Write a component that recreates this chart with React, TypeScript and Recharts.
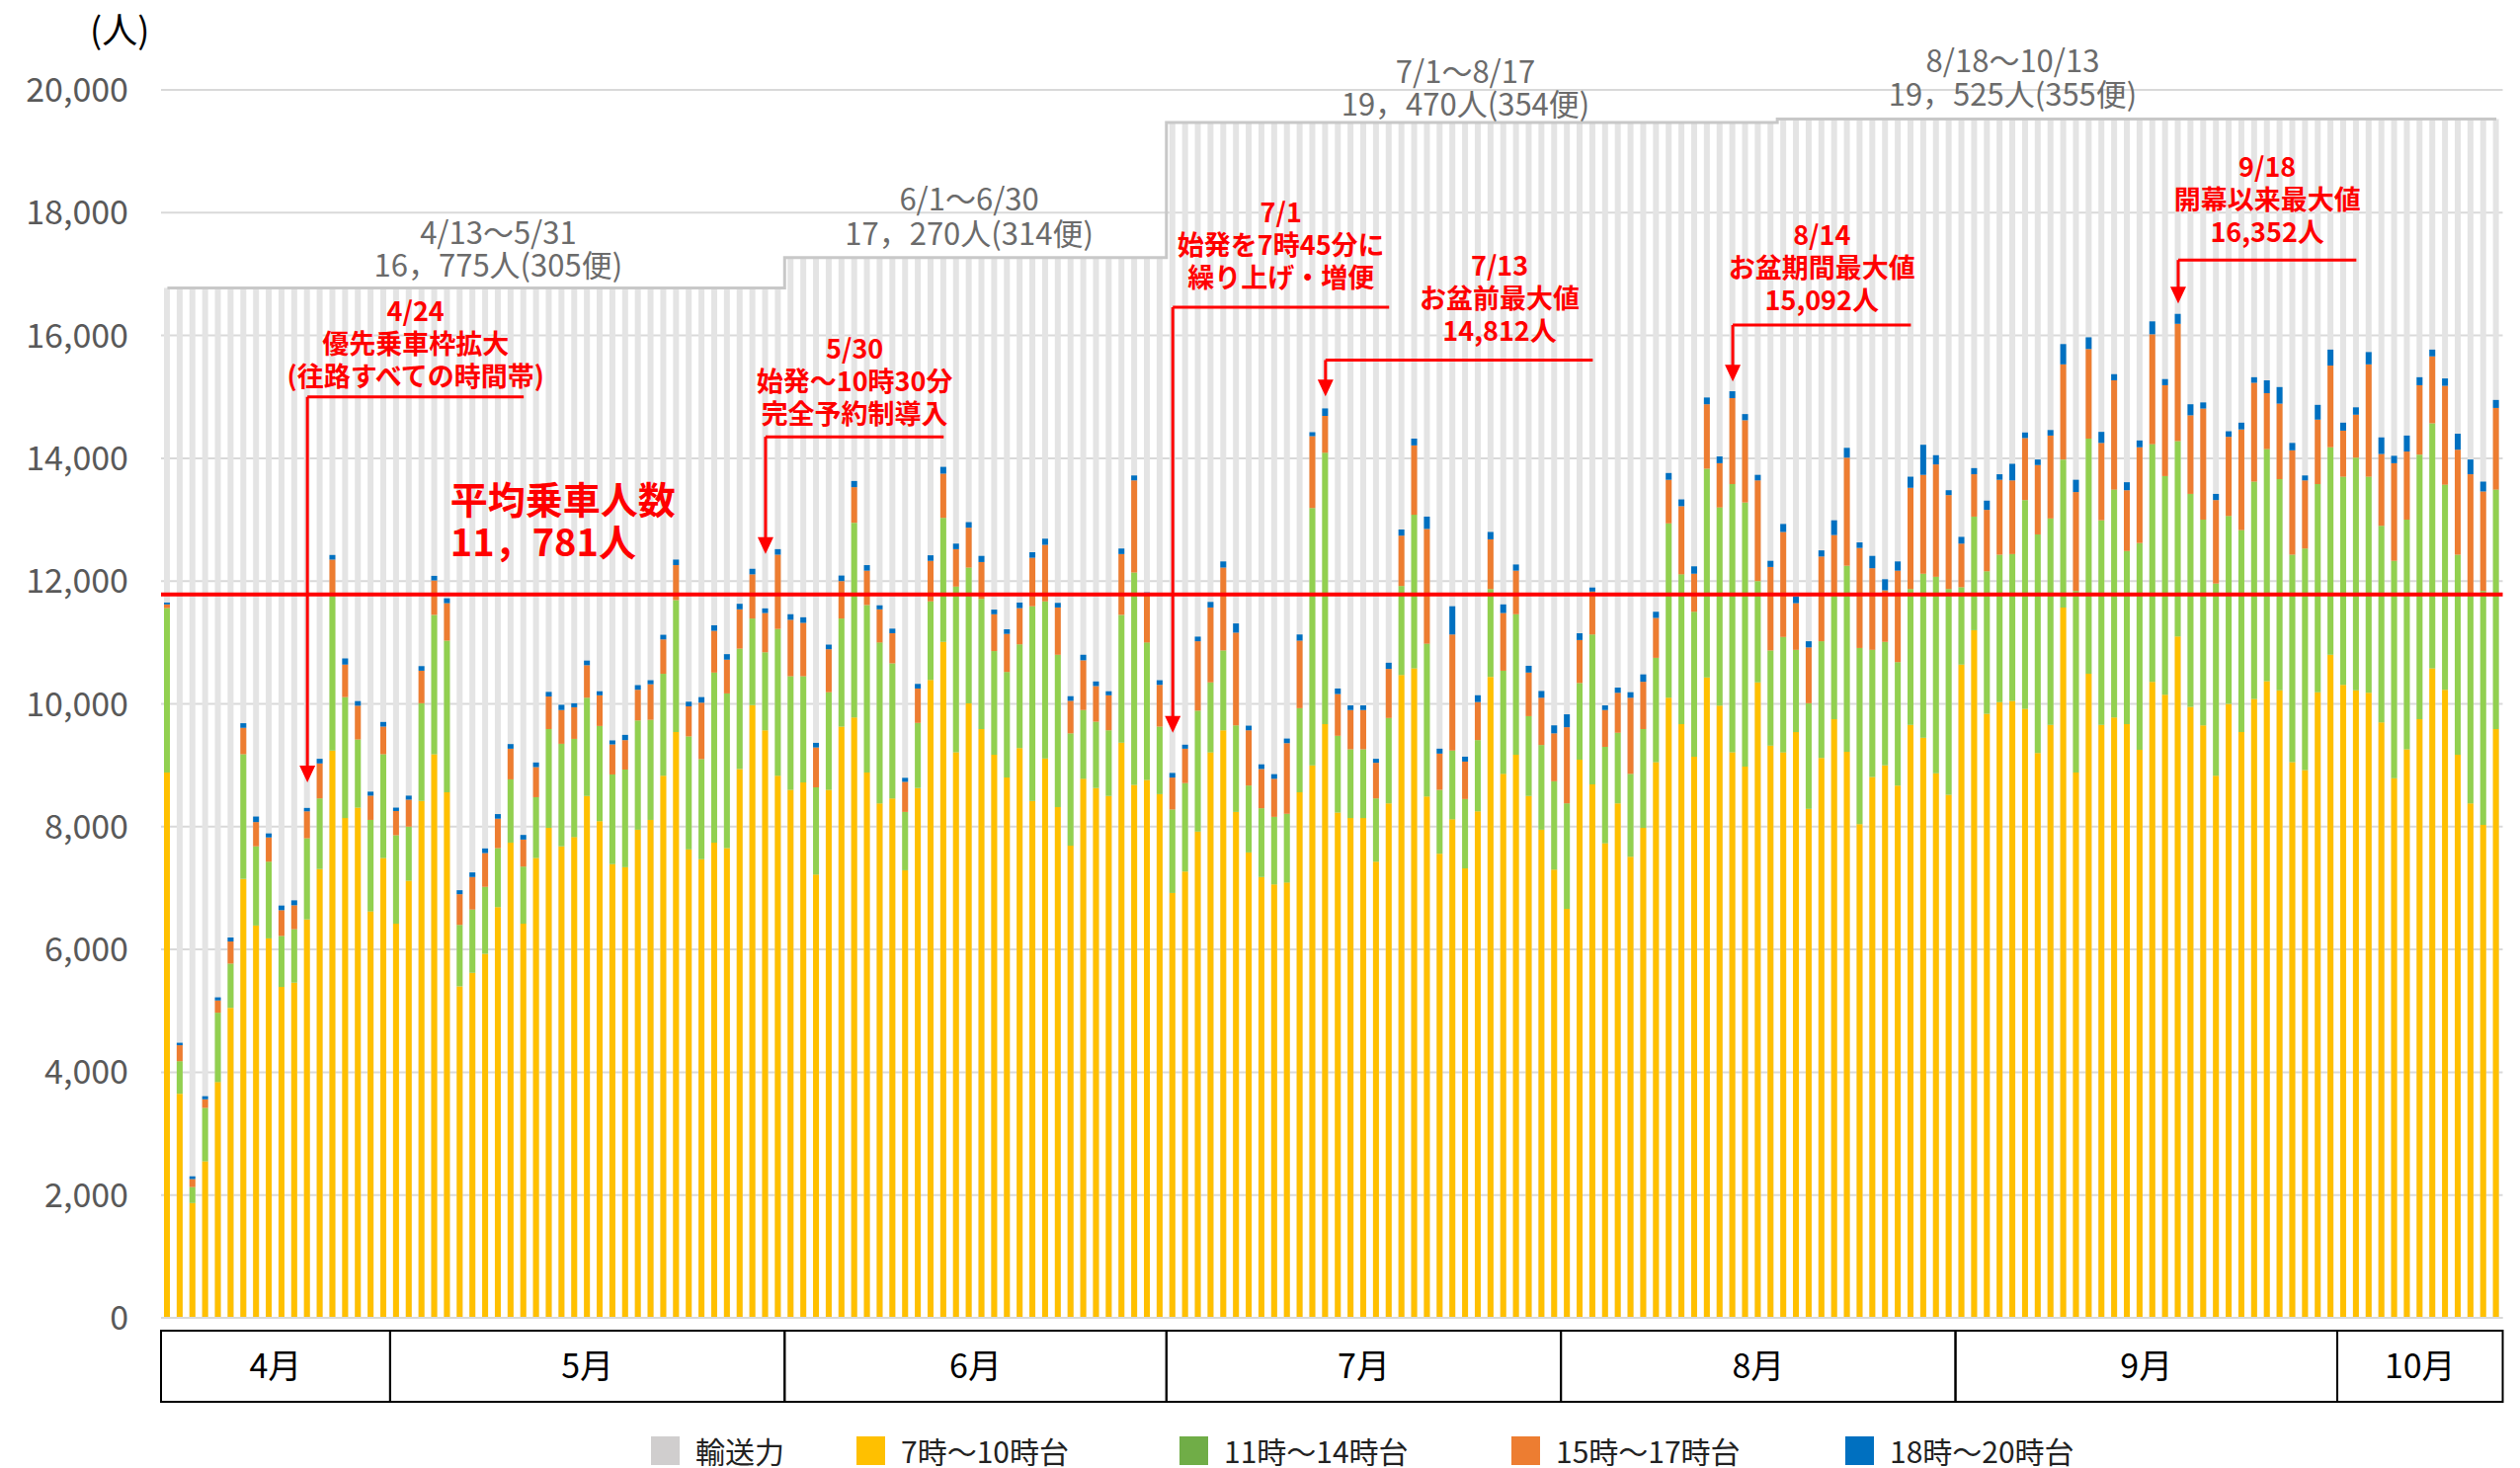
import React from 'react';
import {
  ComposedChart,
  Bar,
  Line,
  XAxis,
  YAxis,
  CartesianGrid,
  ReferenceLine,
  ReferenceDot,
} from 'recharts';

// 運行日 4/13〜10/13  [月, 開始日, 終了日]
const monthSpans: [number, number, number][] = [
  [4, 13, 30], [5, 1, 31], [6, 1, 30], [7, 1, 31], [8, 1, 31], [9, 1, 30], [10, 1, 13],
];
const days: string[] = monthSpans.flatMap(([m, from, to]) =>
  Array.from({ length: to - from + 1 }, (_, i) => `${m}/${from + i}`),
);

// 時間帯別乗車人数（人）
const slot7to10 = [
  8880, 3650, 1870, 2550, 3840, 5050, 7150, 6390, 6180, 5390,
  5460, 6490, 7310, 9240, 8140, 8310, 6620, 7490, 6420, 7120,
  8420, 9180, 8560, 5400, 5620, 5930, 6690, 7740, 6420, 7490,
  7980, 7680, 7830, 8500, 8090, 7390, 7340, 7950, 8110, 8830,
  9540, 7630, 7470, 7740, 7650, 8940, 9980, 9570, 8830, 8600,
  8720, 7220, 8600, 9630, 9780, 8880, 8380, 8460, 7290, 8630,
  10390, 11010, 9210, 10010, 9590, 9170, 8800, 9280, 8420, 9110,
  8320, 7690, 8780, 8630, 8500, 9370, 8680, 8760, 8530, 6920,
  7270, 7920, 9210, 9570, 8240, 7580, 7180, 7060, 7090, 8560,
  9000, 9670, 8230, 8140, 8140, 7430, 8380, 10470, 10580, 8490,
  7560, 8120, 7320, 8250, 10440, 8860, 9170, 8500, 7950, 7300,
  6660, 9090, 8690, 7730, 8380, 7510, 7980, 9050, 10100, 9670,
  9140, 10430, 9970, 9210, 8980, 10350, 9320, 9210, 9540, 8290,
  9120, 9750, 9220, 8040, 8810, 9000, 8670, 9660, 9450, 8870,
  8520, 10640, 11200, 9840, 10030, 10050, 9920, 9200, 9660, 11570,
  8880, 10490, 9660, 9780, 9670, 9250, 10360, 10150, 11100, 9950,
  9650, 8830, 10000, 9540, 10080, 10370, 10220, 9050, 8920, 10190,
  10800, 10310, 10220, 10180, 9700, 8790, 9260, 9750, 10580, 10230,
  9170, 8380, 8030, 9590,
];
const slot11to14 = [
  2680, 530, 260, 870, 1130, 720, 2030, 1290, 1250, 830,
  870, 1320, 1150, 2530, 1970, 1110, 1490, 1690, 1440, 880,
  1590, 2270, 2470, 1000, 1030, 1090, 960, 1030, 930, 990,
  1610, 1670, 1600, 1600, 1550, 1460, 1590, 1780, 1630, 1660,
  2150, 1840, 1630, 2770, 2520, 1960, 1410, 1270, 2390, 1850,
  1730, 1420, 1590, 1760, 3170, 2730, 2620, 2200, 950, 1060,
  1280, 2020, 2700, 2210, 2120, 1690, 1720, 1690, 3170, 2560,
  2480, 1830, 1120, 1080, 1070, 2080, 3460, 2240, 1100, 1360,
  1440, 1970, 1140, 1300, 1410, 1090, 1120, 1100, 1120, 1370,
  4190, 4420, 1250, 1120, 1120, 1030, 1390, 1450, 2500, 2490,
  1040, 1120, 1130, 1160, 1430, 1680, 2290, 1300, 1380, 1440,
  1720, 1250, 2440, 1570, 1150, 1350, 1610, 1700, 2840, 2440,
  2360, 3400, 3230, 4370, 4300, 1650, 1550, 1880, 1340, 1720,
  1900, 2020, 3030, 2870, 2070, 2010, 2010, 2210, 2670, 3200,
  3350, 1260, 1850, 2320, 2400, 2390, 3400, 3560, 3360, 2410,
  2960, 3830, 3330, 3710, 2820, 3370, 3870, 3560, 3180, 3470,
  3350, 3130, 3060, 3290, 3540, 3780, 3440, 3380, 3610, 3390,
  3380, 3390, 3790, 3520, 3200, 3540, 3740, 4310, 3990, 3340,
  3260, 3390, 3810, 3900,
];
const slot15to17 = [
  60, 260, 130, 140, 200, 360, 430, 395, 395, 420,
  390, 440, 570, 580, 530, 550, 395, 450, 395, 440,
  530, 560, 610, 500, 530, 550, 480, 500, 440, 490,
  530, 550, 515, 530, 500, 490, 480, 500, 580, 560,
  570, 490, 920, 680, 550, 640, 720, 640, 1210, 920,
  870, 650, 700, 610, 580, 560, 540, 490, 490, 560,
  660, 720, 610, 650, 600, 600, 620, 590, 790, 920,
  770, 530, 810, 580, 570, 990, 1500, 770, 680, 520,
  560, 1130, 1220, 1350, 1510, 900, 640, 620, 1150, 1100,
  1170, 600, 680, 640, 640, 580, 800, 820, 1130, 1870,
  590, 1890, 610, 620, 810, 940, 710, 710, 770, 780,
  1240, 700, 700, 600, 650, 1240, 770, 650, 710, 1110,
  620, 1050, 720, 1400, 1340, 1640, 1360, 1710, 760, 910,
  1380, 980, 1760, 1630, 1330, 840, 1490, 1650, 1610, 1830,
  1530, 710, 690, 1000, 1220, 1200, 1010, 1130, 1350, 1550,
  1610, 1460, 1260, 1780, 990, 1560, 1790, 1480, 1910, 1280,
  1810, 1360, 1290, 1640, 1610, 910, 1230, 1700, 1110, 1050,
  1330, 750, 700, 1830, 1170, 1590, 1110, 1130, 1090, 1610,
  1710, 1970, 1620, 1330,
];
const slot18to20 = [
  30, 40, 45, 50, 50, 65, 75, 90, 65, 75,
  80, 55, 75, 75, 100, 75, 65, 75, 55, 65,
  75, 75, 80, 65, 75, 75, 75, 75, 75, 75,
  75, 85, 65, 75, 65, 65, 85, 75, 65, 75,
  90, 75, 90, 90, 90, 90, 90, 75, 90, 90,
  90, 75, 75, 90, 100, 90, 65, 75, 65, 75,
  90, 110, 90, 90, 100, 75, 75, 90, 90, 100,
  75, 75, 90, 75, 65, 90, 80, 45, 75, 75,
  65, 75, 90, 100, 150, 75, 75, 75, 75, 100,
  65, 122, 90, 75, 75, 65, 100, 100, 110, 200,
  80, 460, 80, 110, 120, 140, 100, 110, 110, 130,
  210, 110, 65, 75, 85, 90, 120, 100, 110, 110,
  120, 110, 110, 112, 100, 90, 100, 130, 110, 100,
  100, 240, 160, 90, 200, 180, 150, 180, 490, 150,
  80, 110, 100, 150, 90, 270, 90, 90, 90, 330,
  200, 190, 180, 100, 130, 110, 210, 100, 162, 180,
  100, 100, 90, 110, 90, 210, 270, 120, 80, 240,
  260, 130, 120, 200, 270, 120, 260, 130, 110, 120,
  260, 240, 160, 130,
];

// 輸送力（期間ごと）
const capacityPeriods = [
  { from: '4/13', to: '5/31', value: 16775 },
  { from: '6/1', to: '6/30', value: 17270 },
  { from: '7/1', to: '8/17', value: 19470 },
  { from: '8/18', to: '10/13', value: 19525 },
];
const capacityLabels = [
  { at: '5/9', lines: ['4/13～5/31', '16，775人(305便)'], offs: [44, 11] },
  { at: '6/15', lines: ['6/1～6/30', '17，270人(314便)'], offs: [48, 13] },
  { at: '7/24', lines: ['7/1～8/17', '19，470人(354便)'], offs: [40, 7] },
  { at: '9/5', lines: ['8/18～10/13', '19，525人(355便)'], offs: [48, 14] },
];

const AVERAGE = 11781;
const yTicks = [0, 2000, 4000, 6000, 8000, 10000, 12000, 14000, 16000, 18000, 20000];

// 吹き出し
const callouts = [
  { day: '4/24', end: '5/11', lead: 15000, tip: 8720, gap: 11, dx: 0,
    lines: ['4/24', '優先乗車枠拡大', '(往路すべての時間帯)'] },
  { day: '5/30', end: '6/13', lead: 14350, tip: 12440, gap: 13, dx: 0,
    lines: ['5/30', '始発～10時30分', '完全予約制導入'] },
  { day: '7/1', end: '7/18', lead: 16460, tip: 9530, gap: 20, dx: 0,
    lines: ['7/1', '始発を7時45分に', '繰り上げ・増便'] },
  { day: '7/13', end: '8/3', lead: 15600, tip: 15010, gap: 19, dx: 41,
    lines: ['7/13', 'お盆前最大値', '14,812人'] },
  { day: '8/14', end: '8/28', lead: 16170, tip: 15250, gap: 15, dx: 0,
    lines: ['8/14', 'お盆期間最大値', '15,092人'] },
  { day: '9/18', end: '10/2', lead: 17230, tip: 16520, gap: 18, dx: 0,
    lines: ['9/18', '開幕以来最大値', '16,352人'] },
];

const COLORS = {
  capacity: '#E4E4E4',
  s1: '#FFC000',
  s2: '#92D050',
  s3: '#ED7D31',
  s4: '#0070C0',
};
const RED = '#FF0000';

const legendItems = [
  { label: '輸送力', color: '#D0CECE', left: 659 },
  { label: '7時～10時台', color: '#FFC000', left: 867 },
  { label: '11時～14時台', color: '#70AD47', left: 1194 },
  { label: '15時～17時台', color: '#ED7D31', left: 1530 },
  { label: '18時～20時台', color: '#0070C0', left: 1868 },
];

const dayIndex = (d: string) => days.indexOf(d);

const chartData = days.map((day, i) => {
  const period = capacityPeriods.find(
    (p) => i >= dayIndex(p.from) && i <= dayIndex(p.to),
  );
  return {
    day,
    capacity: period ? period.value : null,
    s1: slot7to10[i],
    s2: slot11to14[i],
    s3: slot15to17[i],
    s4: slot18to20[i],
  };
});

let cursor = 0;
const monthBoxes = monthSpans.map(([m, from, to]) => {
  const box = { label: `${m}月`, start: cursor, count: to - from + 1 };
  cursor += box.count;
  return box;
});

const MonthTick = (props: any) => {
  const { x, y, payload } = props;
  const idx = payload?.index ?? props.index;
  const box = monthBoxes.find((b) => b.start === idx);
  if (!box) return null;
  const half = payload?.offset ?? 6.44;
  const left = x - half;
  const w = box.count * half * 2;
  return (
    <g>
      <rect x={left} y={y + 13} width={w} height={72} fill="none" stroke="#000" strokeWidth={2} />
      <text x={left + w / 2} y={y + 61} textAnchor="middle" fontSize={34} fill="#000">
        {box.label}
      </text>
    </g>
  );
};

const calloutText = (c: (typeof callouts)[number]) => (props: any) => {
  const vb = props.viewBox ?? props;
  if (vb == null || vb.x == null) return null;
  const cx = vb.x + (vb.width ?? 0) / 2 + c.dx;
  const n = c.lines.length;
  return (
    <text textAnchor="middle" fill={RED} fontSize={27} fontWeight={700}>
      {c.lines.map((t, i) => (
        <tspan key={i} x={cx} y={vb.y - c.gap - (n - 1 - i) * 33}>
          {t}
        </tspan>
      ))}
    </text>
  );
};

const ArrowHead = (props: any) => {
  const { cx, cy } = props;
  return <path d={`M${cx - 8},${cy - 17} L${cx + 8},${cy - 17} L${cx},${cy} Z`} fill={RED} />;
};

const capLabel = (lines: string[], offs: number[]) => (props: any) => {
  const { cx, cy } = props;
  return (
    <text textAnchor="middle" fill="#6B6B6B" fontSize={31}>
      {lines.map((t, i) => (
        <tspan key={i} x={cx} y={cy - offs[i]}>
          {t}
        </tspan>
      ))}
    </text>
  );
};

const AverageLabel = (props: any) => {
  const { cx, cy } = props;
  return (
    <text textAnchor="start" fill={RED} fontSize={38} fontWeight={700}>
      <tspan x={cx + 3} y={cy - 82}>平均乗車人数</tspan>
      <tspan x={cx + 3} y={cy - 39}>11，781人</tspan>
    </text>
  );
};

export default function App() {
  return (
    <div
      style={{
        position: 'absolute',
        left: 0,
        top: 0,
        width: 2551,
        height: 1486,
        background: '#fff',
        fontFamily: '"Noto Sans CJK JP", "Noto Sans", sans-serif',
      }}
    >
      <ComposedChart
        width={2551}
        height={1486}
        data={chartData}
        margin={{ top: 91, right: 17.5, bottom: 0, left: 0 }}
      >
        <CartesianGrid vertical={false} stroke="#D9D9D9" strokeWidth={2} />
        <XAxis
          dataKey="day"
          interval={0}
          height={152}
          tickLine={false}
          tickSize={0}
          tickMargin={0}
          axisLine={{ stroke: '#D9D9D9', strokeWidth: 2 }}
          tick={(p: any) => <MonthTick {...p} />}
        />
        <XAxis xAxisId="cap" dataKey="day" hide />
        <YAxis
          width={163}
          domain={[0, 20000]}
          ticks={yTicks}
          interval={0}
          axisLine={false}
          tickLine={false}
          tickSize={0}
          tickMargin={33}
          tick={{ fill: '#595959', fontSize: 34 }}
          tickFormatter={(v: number) => v.toLocaleString('en-US')}
        />
        <Bar
          xAxisId="cap"
          dataKey="capacity"
          barSize={6}
          fill={COLORS.capacity}
          isAnimationActive={false}
        />
        <Bar dataKey="s1" stackId="p" barSize={6} fill={COLORS.s1} isAnimationActive={false} />
        <Bar dataKey="s2" stackId="p" barSize={6} fill={COLORS.s2} isAnimationActive={false} />
        <Bar dataKey="s3" stackId="p" barSize={6} fill={COLORS.s3} isAnimationActive={false} />
        <Bar dataKey="s4" stackId="p" barSize={6} fill={COLORS.s4} isAnimationActive={false} />
        <Line
          type="step"
          dataKey="capacity"
          stroke="#C8C8C8"
          strokeWidth={3}
          dot={false}
          activeDot={false}
          isAnimationActive={false}
        />
        <ReferenceLine y={AVERAGE} stroke={RED} strokeWidth={4} />
        <ReferenceDot x="5/5" y={AVERAGE} r={0} shape={(p: any) => <AverageLabel {...p} />} />
        {capacityLabels.map((c, i) => (
          <ReferenceDot
            key={c.at}
            x={c.at}
            y={capacityPeriods[i].value}
            r={0}
            ifOverflow="visible"
            shape={capLabel(c.lines, c.offs)}
          />
        ))}
        {callouts.map((c) => (
          <ReferenceLine
            key={`h-${c.day}`}
            segment={[{ x: c.day, y: c.lead }, { x: c.end, y: c.lead }]}
            stroke={RED}
            strokeWidth={3}
            label={calloutText(c)}
          />
        ))}
        {callouts.map((c) => (
          <ReferenceLine
            key={`v-${c.day}`}
            segment={[{ x: c.day, y: c.lead }, { x: c.day, y: c.tip + 200 }]}
            stroke={RED}
            strokeWidth={3}
          />
        ))}
        {callouts.map((c) => (
          <ReferenceDot
            key={`a-${c.day}`}
            x={c.day}
            y={c.tip}
            r={0}
            shape={(p: any) => <ArrowHead {...p} />}
          />
        ))}
      </ComposedChart>

      <div style={{ position: 'absolute', left: 91, top: 2, fontSize: 36, color: '#000' }}>(人)</div>

      {legendItems.map((item) => (
        <div
          key={item.label}
          style={{
            position: 'absolute',
            left: item.left,
            top: 1451,
            height: 34,
            display: 'flex',
            alignItems: 'center',
            fontSize: 30,
            color: '#222',
            whiteSpace: 'nowrap',
          }}
        >
          <span style={{ width: 29, height: 29, background: item.color, marginRight: 16 }} />
          {item.label}
        </div>
      ))}
    </div>
  );
}
